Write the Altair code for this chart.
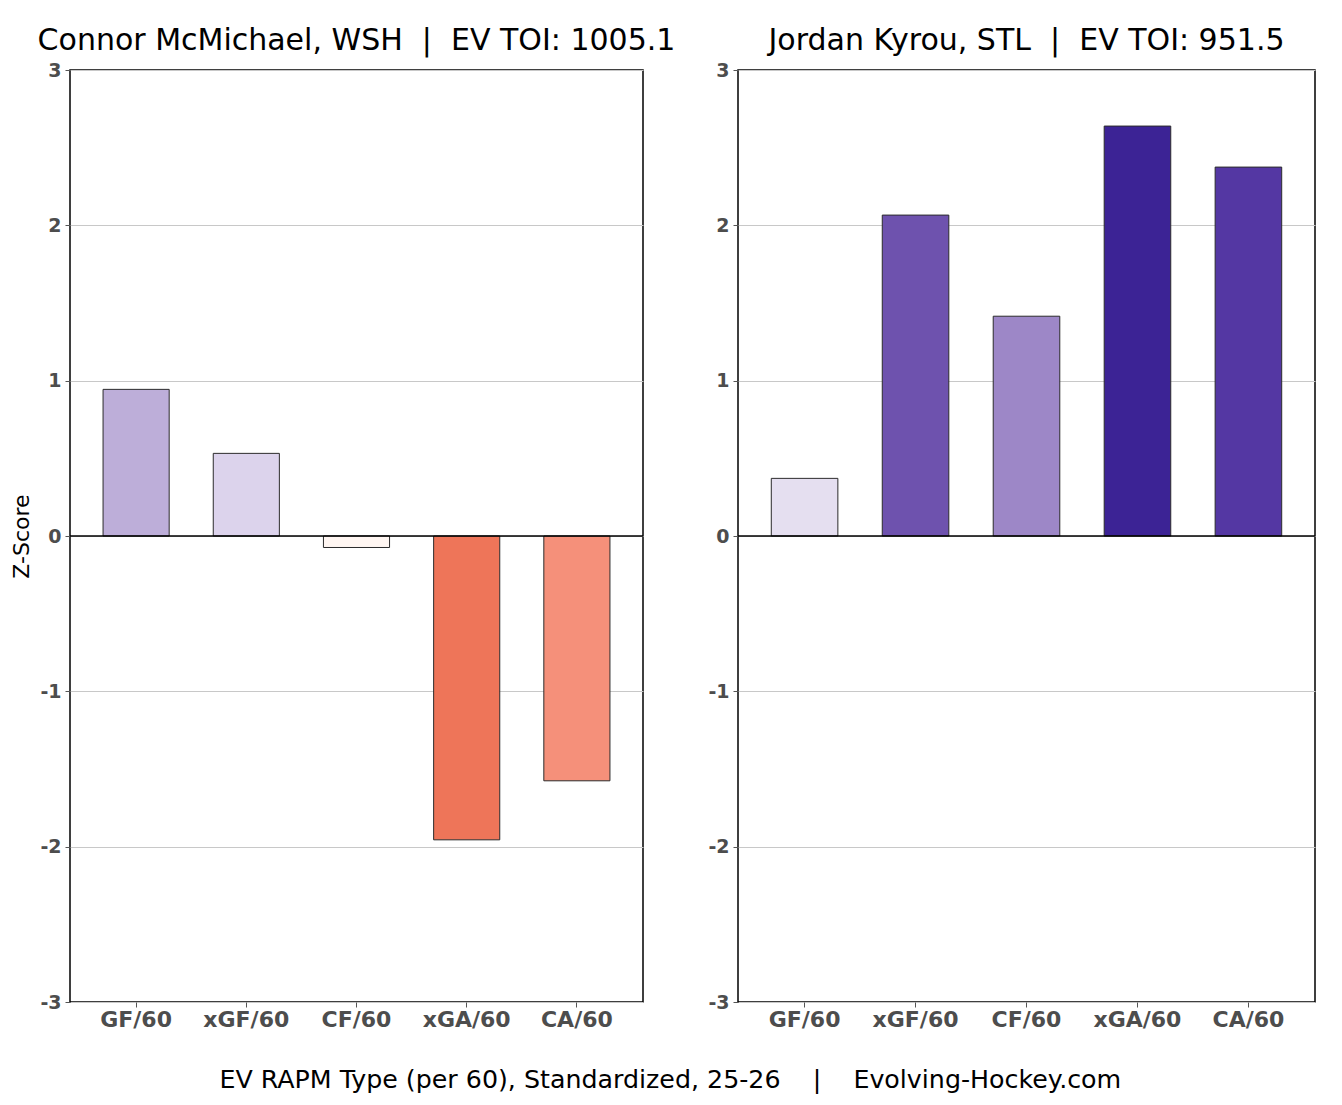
import altair as alt
import pandas as pd

categories = ["GF/60", "xGF/60", "CF/60", "xGA/60", "CA/60"]
left_values = [0.944, 0.532, -0.074, -1.956, -1.576]
right_values = [0.371, 2.066, 1.415, 2.639, 2.375]
left_colors = ["#bdaed9", "#dcd3ec", "#fff6f2", "#ee7559", "#f5907a"]
right_colors = ["#e5dff0", "#6e52ae", "#9d87c7", "#3c2395", "#5437a3"]
NB = "\u00a0"
left_title = f"Connor McMichael, WSH {NB}|{NB} EV TOI: 1005.1"
right_title = f"Jordan Kyrou, STL {NB}|{NB} EV TOI: 951.5"
caption = f"EV RAPM Type (per 60), Standardized, 25-26 {NB*3}|{NB*3} Evolving-Hockey.com"

FONT = "DejaVu Sans"


def panel(values, colors, title, width, show_ytitle):
    df = pd.DataFrame({"metric": categories, "value": values, "color": colors})
    x = alt.X(
        "metric:N",
        sort=categories,
        scale=alt.Scale(paddingInner=0.4, paddingOuter=0.3),
        axis=alt.Axis(
            title=None, labelAngle=0, labelFont=FONT, labelFontSize=22,
            labelFontWeight="bold", labelColor="#4d4d4d", tickColor="#555555",
            tickSize=5, labelPadding=2, domain=False, grid=False,
        ),
    )
    y = alt.Y(
        "value:Q",
        scale=alt.Scale(domain=[-3, 3], nice=False, zero=False),
        axis=alt.Axis(
            title="Z-Score" if show_ytitle else None,
            values=[-3, -2, -1, 0, 1, 2, 3],
            labelExpr="'' + datum.value",
            labelFont=FONT, labelFontSize=19, labelFontWeight="bold",
            labelColor="#4d4d4d", tickColor="#555555", tickSize=5,
            labelPadding=4, domain=False, grid=True, gridColor="#c8c8c8",
            gridWidth=1, titleFont=FONT, titleFontSize=22,
            titleFontWeight="normal", titleColor="#000000", titlePadding=6,
        ),
    )
    bars = alt.Chart(df).mark_bar(stroke="#2b2b2b", strokeWidth=1).encode(
        x=x, y=y, color=alt.Color("color:N", scale=None)
    )
    zero = alt.Chart(pd.DataFrame({"z": [0]})).mark_rule(
        color="#000000", strokeWidth=1.5
    ).encode(y=alt.Y("z:Q", scale=alt.Scale(domain=[-3, 3])))
    return alt.layer(bars, zero).properties(
        width=width, height=932,
        title=alt.TitleParams(
            text=title, font=FONT, fontSize=30, fontWeight="normal",
            color="#000000", anchor="middle", offset=5,
        ),
    )


left = panel(left_values, left_colors, left_title, 573, True)
right = panel(right_values, right_colors, right_title, 577, False)

chart = alt.hconcat(left, right, spacing=95, bounds="flush").properties(
    title=alt.TitleParams(
        text=caption, orient="bottom", anchor="middle", font=FONT,
        fontSize=25.3, fontWeight="normal", color="#000000", offset=37, dx=7,
    ),
    padding={"left": 2, "top": 17, "right": 5, "bottom": 5},
).configure(background="white").configure_view(
    stroke="#000000", strokeWidth=1.5
)

chart.save("out.html", embed_options={"renderer": "svg", "actions": False})
